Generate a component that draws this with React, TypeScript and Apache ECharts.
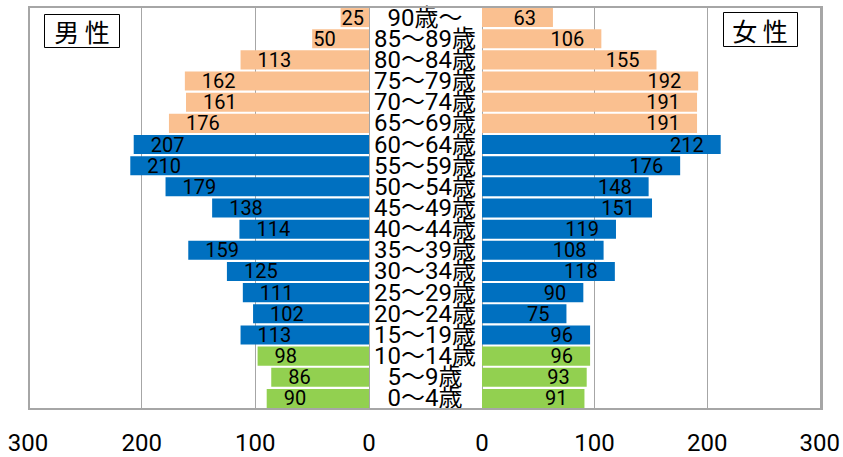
import React, { useEffect, useRef } from "react";
import * as echarts from "echarts";

const categories = [
  "0～4歳", "5～9歳", "10～14歳", "15～19歳", "20～24歳", "25～29歳",
  "30～34歳", "35～39歳", "40～44歳", "45～49歳", "50～54歳", "55～59歳",
  "60～64歳", "65～69歳", "70～74歳", "75～79歳", "80～84歳", "85～89歳", "90歳～",
];
const male = [90, 86, 98, 113, 102, 111, 125, 159, 114, 138, 179, 210, 207, 176, 161, 162, 113, 50, 25];
const female = [91, 93, 96, 96, 75, 90, 118, 108, 119, 151, 148, 176, 212, 191, 191, 192, 155, 106, 63];
const xTicks = [0, 100, 200, 300];

const GREEN = "#92D050";
const BLUE = "#0070C0";
const PEACH = "#FAC090";
const GRID_GRAY = "#a6a6a6";
const FONT = "Roboto, 'Noto Sans CJK JP', sans-serif";
const CJK = "'Noto Sans CJK JP', sans-serif";

function colorFor(i: number) {
  if (i <= 2) return GREEN;
  if (i <= 12) return BLUE;
  return PEACH;
}

export default function App() {
  const ref = useRef<HTMLDivElement>(null);
  useEffect(() => {
    if (!ref.current) return;
    const chart = echarts.init(ref.current, undefined, { renderer: "svg" });
    const xMax = xTicks[xTicks.length - 1];
    const xAxisCommon = {
      type: "value" as const,
      min: 0,
      max: xMax,
      interval: 100,
      axisLine: { show: false },
      axisTick: { show: false },
      splitLine: { show: true, lineStyle: { color: GRID_GRAY, width: 1 } },
      axisLabel: {
        fontSize: 24,
        lineHeight: 24,
        margin: 22,
        color: "#000",
        fontFamily: FONT,
        showMinLabel: true,
        showMaxLabel: true,
      },
    };
    const dataLabel = {
      show: true,
      distance: 17,
      fontSize: 20,
      lineHeight: 19,
      color: "#000",
      fontFamily: FONT,
    };
    const option = {
      animation: false,
      backgroundColor: "#fff",
      grid: [
        { left: 28, top: 7, width: 341, height: 402 },
        { left: 482, top: 7, width: 340, height: 402 },
      ],
      xAxis: [
        { ...xAxisCommon, gridIndex: 0, inverse: true },
        { ...xAxisCommon, gridIndex: 1 },
      ],
      yAxis: [
        {
          type: "category",
          gridIndex: 0,
          position: "right",
          data: categories,
          axisLine: { show: true, lineStyle: { color: GRID_GRAY, width: 1 } },
          axisTick: { show: false },
          axisLabel: {
            interval: 0,
            align: "center",
            margin: 56,
            fontSize: 24,
            lineHeight: 20,
            color: "#000",
            fontFamily: FONT,
          },
        },
        {
          type: "category",
          gridIndex: 1,
          position: "left",
          data: categories,
          axisLine: { show: true, lineStyle: { color: GRID_GRAY, width: 1 } },
          axisTick: { show: false },
          axisLabel: { show: false },
        },
      ],
      series: [
        {
          type: "bar",
          name: "男性",
          xAxisIndex: 0,
          yAxisIndex: 0,
          barCategoryGap: "10%",
          data: male.map((v, i) => ({
            value: v,
            itemStyle: { color: colorFor(i) },
            label: v < 60 ? { distance: 1 } : undefined,
          })),
          label: { ...dataLabel, position: "insideLeft" },
        },
        {
          type: "bar",
          name: "女性",
          xAxisIndex: 1,
          yAxisIndex: 1,
          barCategoryGap: "10%",
          data: female.map((v, i) => ({
            value: v,
            itemStyle: { color: colorFor(i) },
          })),
          label: { ...dataLabel, position: "insideRight" },
        },
      ],
      graphic: [
        {
          type: "rect",
          shape: { x: 29, y: 7, width: 793, height: 402 },
          style: { fill: "none", stroke: GRID_GRAY, lineWidth: 2 },
          z: 10,
        },
        {
          type: "rect",
          shape: { x: 44.5, y: 14.5, width: 75, height: 33 },
          style: { fill: "#fff", stroke: "#000", lineWidth: 1 },
          z: 11,
        },
        {
          type: "text",
          x: 82,
          y: 31,
          style: {
            text: "男 性",
            fontSize: 25,
            fontFamily: CJK,
            fill: "#000",
            align: "center",
            verticalAlign: "middle",
          },
          z: 12,
        },
        {
          type: "rect",
          shape: { x: 723.5, y: 12.5, width: 74, height: 34 },
          style: { fill: "#fff", stroke: "#000", lineWidth: 1 },
          z: 11,
        },
        {
          type: "text",
          x: 760,
          y: 30,
          style: {
            text: "女 性",
            fontSize: 25,
            fontFamily: CJK,
            fill: "#000",
            align: "center",
            verticalAlign: "middle",
          },
          z: 12,
        },
      ],
    };
    chart.setOption(option as any);
    return () => chart.dispose();
  }, []);
  return (
    <div
      ref={ref}
      style={{ position: "fixed", left: 0, top: 0, width: 843, height: 457 }}
    />
  );
}
